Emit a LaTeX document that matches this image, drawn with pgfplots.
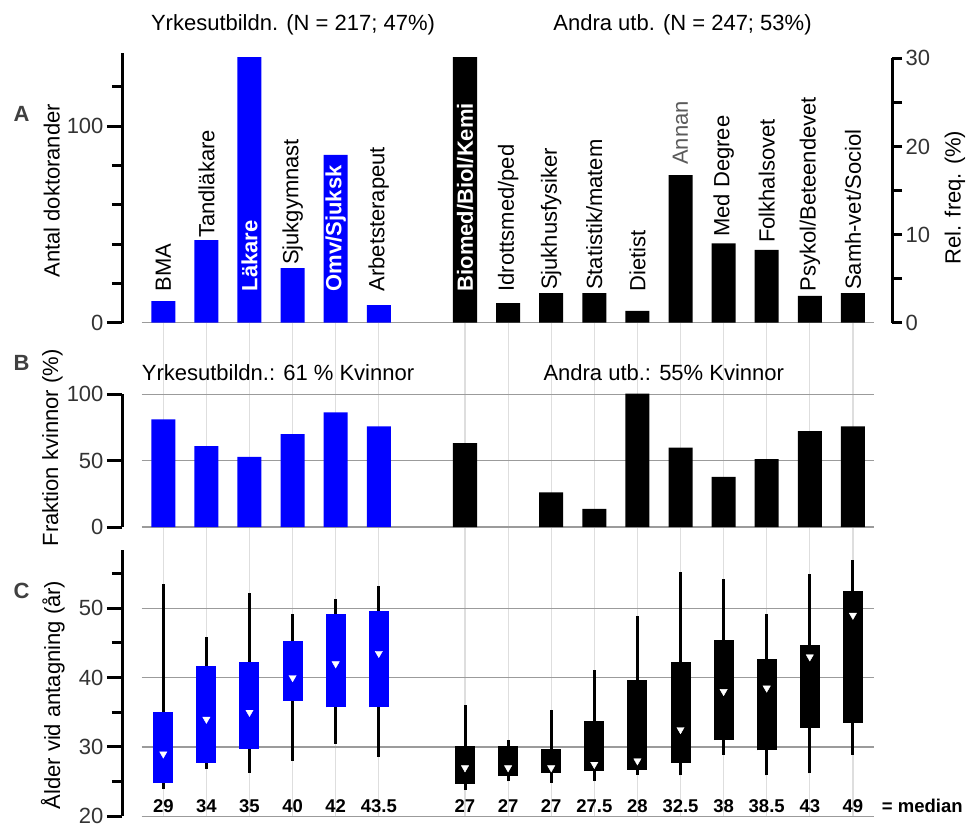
\documentclass[border=0pt]{standalone}
\usepackage{pgfplots}
\pgfplotsset{compat=1.18}
\usepackage{fontspec}
\setmainfont{Liberation Sans}
\definecolor{pblue}{RGB}{0,0,255}
\definecolor{hgrid}{RGB}{155,155,155}
\definecolor{vgrid}{RGB}{222,222,222}
\definecolor{tickc}{RGB}{51,51,51}
\definecolor{letc}{RGB}{64,64,64}
\definecolor{annan}{RGB}{90,90,90}
\newcommand{\fs}{\fontsize{22}{26}\selectfont}
\newcommand{\fmed}{\fontsize{18.5}{22}\selectfont\bfseries}
\pgfplotsset{
  panel/.style={
    scale only axis, width=770pt,
    xmin=-0.958, xmax=16.907,
    axis x line=none, axis y line*=left,
    y axis line style={line width=3pt,-},
    tick align=outside,
    major tick length=15pt, minor tick length=10pt,
    major tick style={line width=3pt,black},
    minor tick style={line width=3pt,black},
    yticklabel style={font=\fs, text=tickc},
    /pgf/number format/assume math mode=true,
    clip=false, anchor=south west,
  },
  bars/.style={ybar, bar width=0.557, bar shift=0pt, draw=none},
}
% box plot: position, lower quartile, upper quartile, lower whisker, upper whisker, colour
\newcommand{\bx}[6]{%
  \addplot[black, line width=3pt] coordinates {(#1,#4) (#1,#5)};
  \addplot[#6, line width=20pt] coordinates {(#1,#2) (#1,#3)};}
\newcommand{\med}[2]{\node[anchor=base, font=\fmed, inner sep=0pt] at (axis cs:#1,20.52) {#2};}
\begin{document}
\begin{tikzpicture}[x=1pt,y=1pt,font=\fs, lab/.style={inner sep=0pt}]
\path[use as bounding box] (0pt,0pt) rectangle (970pt,-823pt);

% ---------- Panel C ----------
\begin{axis}[panel, at={(122pt,-816.3pt)}, height=266.3pt,
  ymin=20, ymax=58.41, ytick={20,30,40,50}, minor ytick={25,35,45,55}]
\pgfplotsinvokeforeach{0,1,2,3,4,5,7,8,9,10,11,12,13,14,15,16}{
  \draw[vgrid, line width=1.2pt] (axis cs:#1,20) -- (axis cs:#1,91.2);}
\pgfplotsinvokeforeach{20,30,40,50}{
  \draw[hgrid, line width=1.2pt] (axis cs:-0.5,#1) -- (axis cs:16.5,#1);}
% pos, lq, uq, lw, uw
\bx{0}{24.8}{35.1}{24.0}{53.5}{pblue}
\bx{1}{27.7}{41.7}{26.8}{45.8}{pblue}
\bx{2}{29.75}{42.3}{26.3}{52.2}{pblue}
\bx{3}{36.7}{45.3}{28.0}{49.2}{pblue}
\bx{4}{35.7}{49.2}{30.5}{51.4}{pblue}
\bx{5}{35.7}{49.6}{28.6}{53.2}{pblue}
\bx{7}{24.7}{30.1}{23.8}{36.05}{black}
\bx{8}{25.8}{30.1}{25.05}{31.0}{black}
\bx{9}{26.3}{29.7}{24.85}{35.4}{black}
\bx{10}{26.5}{33.7}{25.1}{41.05}{black}
\bx{11}{26.7}{39.7}{26.0}{48.9}{black}
\bx{12}{27.7}{42.3}{25.9}{55.2}{black}
\bx{13}{31.0}{45.4}{28.9}{54.2}{black}
\bx{14}{29.5}{42.7}{25.9}{49.2}{black}
\bx{15}{32.8}{44.7}{26.2}{55.0}{black}
\bx{16}{33.5}{52.5}{28.9}{56.9}{black}
% medians
\addplot[only marks, mark=triangle*, mark size=4.2pt, mark options={fill=white, draw=white, rotate=180}]
 coordinates {(0,29) (1,34) (2,35) (3,40) (4,42) (5,43.5) (7,27) (8,27) (9,27) (10,27.5) (11,28) (12,32.5) (13,38) (14,38.5) (15,43) (16,49)};
\med{0}{29}\med{1}{34}\med{2}{35}\med{3}{40}\med{4}{42}\med{5}{43.5}
\med{7}{27}\med{8}{27}\med{9}{27}\med{10}{27.5}\med{11}{28}\med{12}{32.5}
\med{13}{38}\med{14}{38.5}\med{15}{43}\med{16}{49}
\end{axis}

% ---------- Panel B ----------
\begin{axis}[panel, at={(122pt,-527pt)}, height=132.7pt,
  ymin=0, ymax=100, ytick={0,50,100}]
\pgfplotsinvokeforeach{0,50,100}{
  \draw[hgrid, line width=1.2pt] (axis cs:-0.5,#1) -- (axis cs:16.5,#1);}
\addplot[bars, fill=pblue] coordinates {(0,81.2) (1,61) (2,52.8) (3,70) (4,86.4) (5,75.9)};
\addplot[bars, fill=black] coordinates {(7,63.3) (9,26.1) (10,13.6) (11,100.5) (12,59.8) (13,37.7) (14,51.2) (15,72.3) (16,75.9)};
\end{axis}

% ---------- Panel A (left axis) ----------
\begin{axis}[panel, at={(122pt,-322.7pt)}, height=269.4pt,
  ymin=0, ymax=137, ytick={0,100}, minor ytick={20,40,60,80,120}]
\draw[hgrid, line width=1.2pt] (axis cs:-0.5,0) -- (axis cs:16.5,0);
\addplot[bars, fill=pblue] coordinates {(0,11) (1,42) (2,135) (3,27.7) (4,85.3) (5,9)};
\addplot[bars, fill=black] coordinates {(7,135) (8,10) (9,15) (10,15) (11,6) (12,75) (13,40.4) (14,37) (15,13.6) (16,15)};
\node[rotate=90, anchor=west, inner sep=0pt, font=\fs] at (axis cs:0,15.8) {BMA};
\node[rotate=90, anchor=west, inner sep=0pt, font=\fs] at (axis cs:1,43.1) {Tandläkare};
\node[rotate=90, anchor=west, inner sep=0pt, text=white, font=\fs\bfseries] at (axis cs:2,15.8) {Läkare};
\node[rotate=90, anchor=west, inner sep=0pt, font=\fs] at (axis cs:3,29.3) {Sjukgymnast};
\node[rotate=90, anchor=west, inner sep=0pt, text=white, font=\fs\bfseries] at (axis cs:4,15.8) {Omv/Sjuksk};
\node[rotate=90, anchor=west, inner sep=0pt, font=\fs] at (axis cs:5,15.8) {Arbetsterapeut};
\node[rotate=90, anchor=west, inner sep=0pt, text=white, font=\fs\bfseries] at (axis cs:7,15.8) {Biomed/Biol/Kemi};
\node[rotate=90, anchor=west, inner sep=0pt, font=\fs] at (axis cs:8,15.8) {Idrottsmed/ped};
\node[rotate=90, anchor=west, inner sep=0pt, font=\fs] at (axis cs:9,16.6) {Sjukhusfysiker};
\node[rotate=90, anchor=west, inner sep=0pt, font=\fs] at (axis cs:10,16.6) {Statistik/matem};
\node[rotate=90, anchor=west, inner sep=0pt, font=\fs] at (axis cs:11,15.8) {Dietist};
\node[rotate=90, anchor=west, inner sep=0pt, text=annan, font=\fs] at (axis cs:12,80.2) {Annan};
\node[rotate=90, anchor=west, inner sep=0pt, font=\fs] at (axis cs:13,43.7) {Med Degree};
\node[rotate=90, anchor=west, inner sep=0pt, font=\fs] at (axis cs:14,40.5) {Folkhalsovet};
\node[rotate=90, anchor=west, inner sep=0pt, font=\fs] at (axis cs:15,15.8) {Psykol/Beteendevet};
\node[rotate=90, anchor=west, inner sep=0pt, font=\fs] at (axis cs:16,16.6) {Samh-vet/Sociol};
\end{axis}

% ---------- Panel A (right axis) ----------
\begin{axis}[panel, at={(122pt,-322.7pt)}, height=264.4pt,
  axis y line*=right, ymin=0, ymax=30, ytick={0,10,20,30}, minor ytick={5,15,25},
  major tick length=10pt, minor tick length=10pt]
\addplot[draw=none] coordinates {(0,0)};
\end{axis}

% ---------- Texts ----------
\node[lab, anchor=base] at (293pt,-30pt) {Yrkesutbildn. (N = 217; 47\%)};
\node[lab, anchor=base] at (682.5pt,-30pt) {Andra utb. (N = 247; 53\%)};
\node[lab, anchor=base west, font=\fs\bfseries, text=letc] at (13.3pt,-121.7pt) {A};
\node[lab, anchor=base west, font=\fs\bfseries, text=letc] at (13.3pt,-370pt) {B};
\node[lab, anchor=base west, font=\fs\bfseries, text=letc] at (13.3pt,-598.3pt) {C};
\node[lab, rotate=90, anchor=base] at (59.5pt,-190.8pt) {Antal doktorander};
\node[lab, rotate=90, anchor=base] at (58pt,-448pt) {Fraktion kvinnor (\%)};
\node[lab, rotate=90, anchor=base] at (60pt,-695pt) {Ålder vid antagning (år)};
\node[lab, rotate=90, anchor=base] at (960.7pt,-197.5pt) {Rel. freq. (\%)};
\node[lab, anchor=base west] at (141.7pt,-380pt) {Yrkesutbildn.: 61 \% Kvinnor};
\node[lab, anchor=base west] at (543.3pt,-380pt) {Andra utb.: 55\% Kvinnor};
\node[lab, anchor=base west, font=\fmed] at (881.7pt,-812.7pt) {= median};
\end{tikzpicture}
\end{document}
